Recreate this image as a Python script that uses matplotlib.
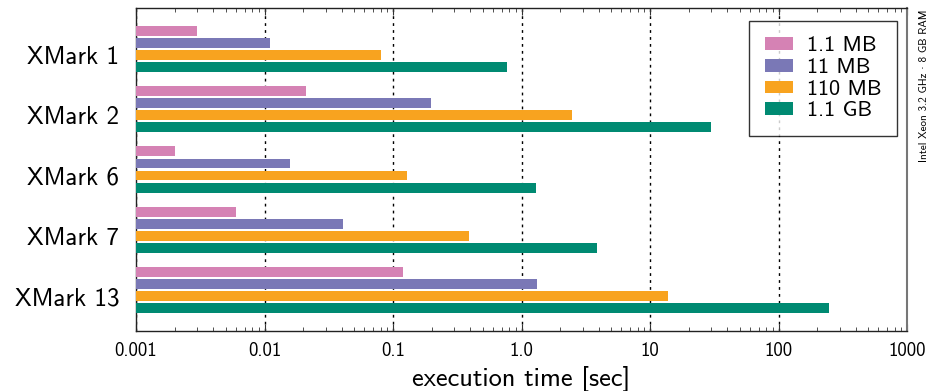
import numpy as np
import matplotlib
matplotlib.use("Agg")
import matplotlib.pyplot as plt
from matplotlib.ticker import LogLocator, NullFormatter, FixedLocator

plt.rcParams["font.family"] = ["cmss10", "DejaVu Sans"]
plt.rcParams["axes.formatter.use_mathtext"] = True

# data (seconds)
queries = ["XMark 1", "XMark 2", "XMark 6", "XMark 7", "XMark 13"]
sizes = ["1.1 MB", "11 MB", "110 MB", "1.1 GB"]
t_1mb = [0.0030, 0.021, 0.0020, 0.0060, 0.12]
t_11mb = [0.011, 0.197, 0.0158, 0.041, 1.32]
t_110mb = [0.080, 2.46, 0.128, 0.39, 13.8]
t_1gb = [0.77, 29.8, 1.30, 3.9, 245]
colors = ["#d582b4", "#7a78b6", "#f8a31f", "#008a72"]
xticks = [0.001, 0.01, 0.1, 1.0, 10, 100, 1000]
xtick_labels = ["0.001", "0.01", "0.1", "1.0", "10", "100", "1000"]

fig = plt.figure(figsize=(9.32, 3.91), dpi=100)
ax = fig.add_axes([136/932, 60/391, 771/932, 323/391])

series = [t_1mb, t_11mb, t_110mb, t_1gb]
offsets = [-0.3, -0.1, 0.1, 0.3]
y = np.arange(len(queries))
for vals, off, col, lab in zip(series, offsets, colors, sizes):
    ax.barh(y + off, np.array(vals) - 0.001, left=0.001, height=0.165,
            color=col, label=lab, zorder=3)

ax.set_xscale("log")
ax.set_xlim(0.001, 1000)
ax.set_ylim(4.68, -0.68)

ax.xaxis.set_major_locator(FixedLocator(xticks))
ax.set_xticklabels(xtick_labels, fontsize=13.5)
ax.xaxis.set_minor_locator(LogLocator(base=10, subs=np.arange(2, 10)))
ax.xaxis.set_minor_formatter(NullFormatter())
ax.tick_params(axis="x", which="both", direction="in", top=True, bottom=True,
               pad=8, color="#333333")
ax.tick_params(axis="x", which="major", length=5)
ax.tick_params(axis="x", which="minor", length=3)

ax.set_yticks(y + 0.1)
ax.set_yticklabels(queries, fontsize=18)
ax.tick_params(axis="y", length=0, pad=12)

# dashed vertical grid at the decades
ax.grid(axis="x", which="major", color="black", linestyle=(0, (2, 3)), linewidth=1, zorder=1)

for s in ax.spines.values():
    s.set_color("#222222")
    s.set_linewidth(1)
ax.spines["right"].set_color("#777777")
ax.spines["right"].set_linewidth(1.5)

ax.set_xlabel("execution time [sec]", fontsize=19, labelpad=4)

leg = ax.legend(loc="upper right", bbox_to_anchor=(0.987, 0.96), fontsize=16,
                frameon=True, fancybox=False, edgecolor="black",
                handlelength=1.3, handleheight=0.5, handletextpad=0.6,
                labelspacing=0.12, borderpad=0.7, borderaxespad=0)
leg.get_frame().set_linewidth(1)
leg.set_zorder(5)

fig.text(924/932, 1 - 10/391, "Intel Xeon 3.2 GHz \u00b7 8 GB RAM", rotation=90,
         ha="center", va="top", fontsize=8)

fig.savefig("out.png", dpi=100)
